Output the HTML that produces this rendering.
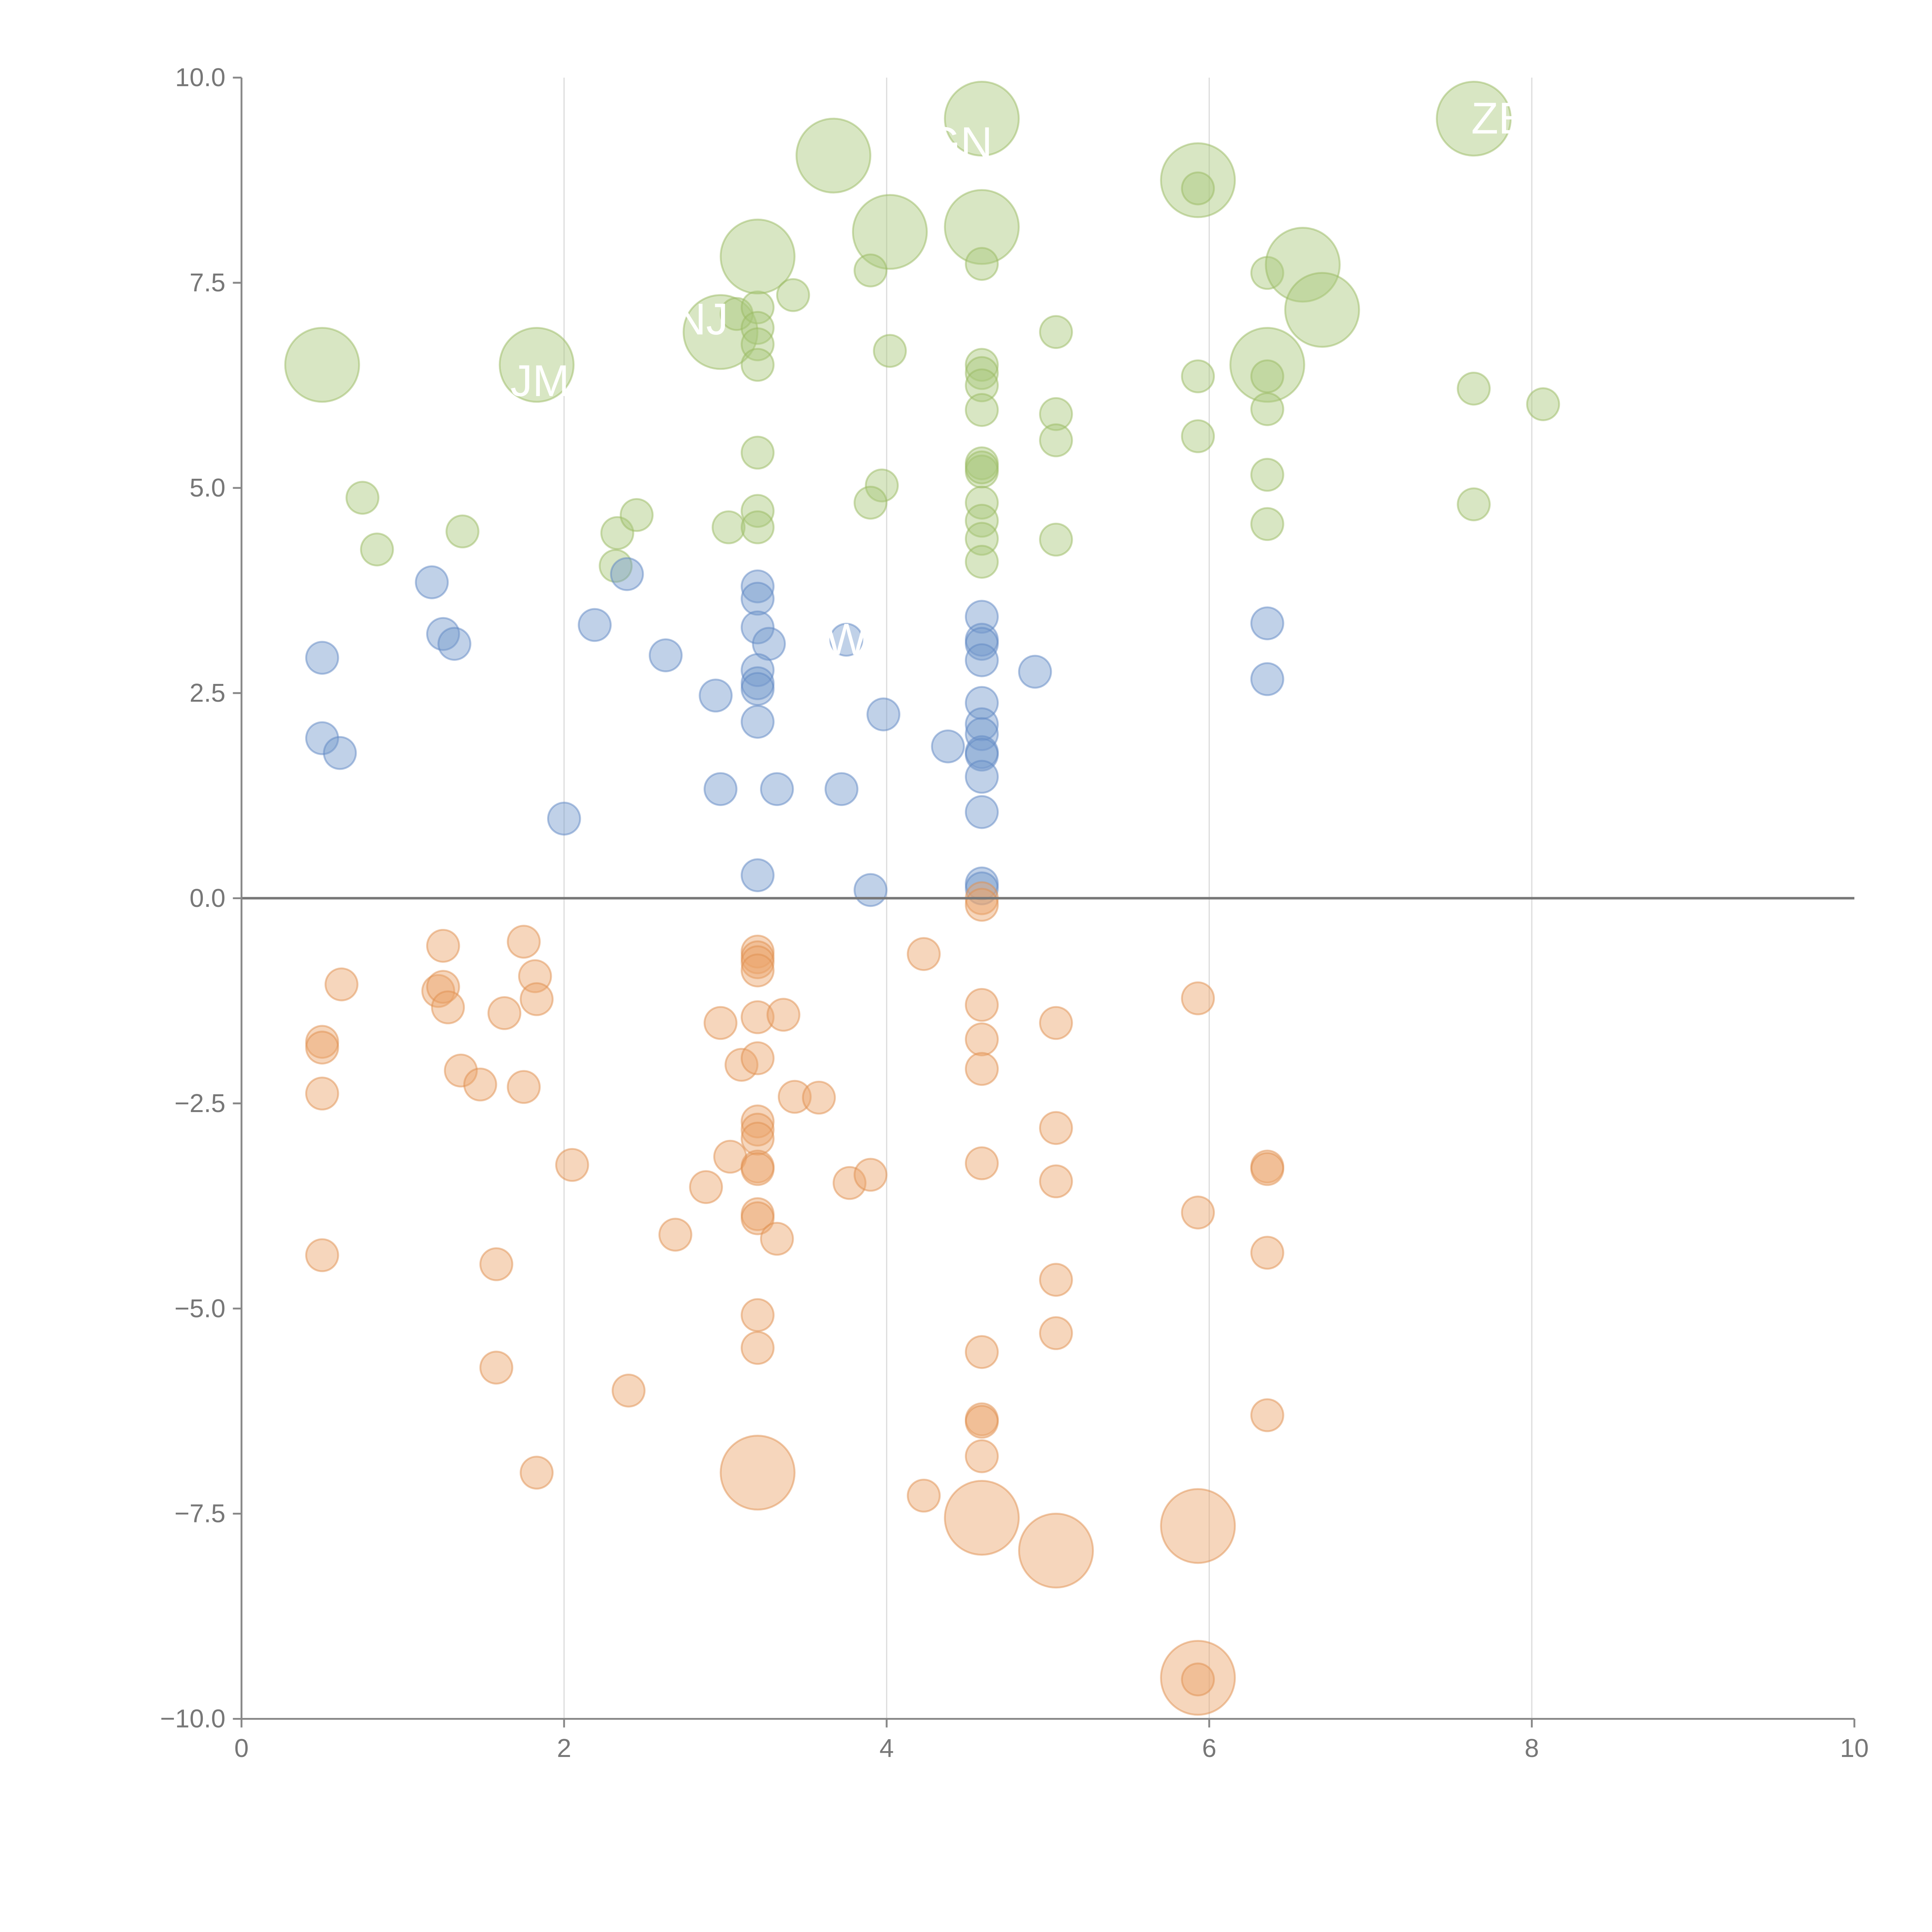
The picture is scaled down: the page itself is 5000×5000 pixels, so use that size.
<!DOCTYPE html>
<html><head><meta charset="utf-8"><style>html,body{margin:0;padding:0;background:#fff}svg{display:block}</style></head>
<body>
<svg id="chart" width="5000" height="5000" viewBox="0 0 1568 1568" xmlns="http://www.w3.org/2000/svg" font-family="Liberation Sans, sans-serif">
<g id="grid"></g>
<g id="marks"></g>
<g id="axes"></g>
<g id="labels"></g>
</svg>
<script>
const xTicks = [0,2,4,6,8,10];
const yTicks = [-10,-7.5,-5,-2.5,0,2.5,5,7.5,10];
const yTickLabels = ["\u221210.0","\u22127.5","\u22125.0","\u22122.5","0.0","2.5","5.0","7.5","10.0"];
const greenPts = [[0.5,6.5,1],[1.83,6.5,1],[0.75,4.88,0],[0.84,4.25,0],[1.37,4.47,0],[2.33,4.45,0],[2.45,4.67,0],[2.32,4.05,0],[3.02,4.52,0],[2.97,6.9,1],[3.07,7.12,0],[3.2,7.2,0],[3.2,6.95,0],[3.2,6.75,0],[3.2,6.5,0],[3.2,7.82,1],[3.42,7.35,0],[3.2,5.43,0],[3.2,4.72,0],[3.2,4.52,0],[3.67,9.05,1],[4.02,8.12,1],[3.9,7.65,0],[4.02,6.67,0],[3.97,5.03,0],[3.9,4.82,0],[4.59,9.5,1],[4.59,8.18,1],[4.59,7.73,0],[4.59,6.5,0],[4.59,6.4,0],[4.59,6.25,0],[4.59,5.95,0],[4.59,5.3,0],[4.59,5.2,0],[4.59,5.25,0],[4.59,4.82,0],[4.59,4.6,0],[4.59,4.38,0],[4.59,4.1,0],[5.05,6.9,0],[5.05,5.9,0],[5.05,5.58,0],[5.05,4.37,0],[5.93,8.75,1],[5.93,8.65,0],[5.93,6.36,0],[5.93,5.63,0],[6.36,7.62,0],[6.58,7.72,1],[6.7,7.17,1],[6.36,6.5,1],[6.36,6.36,0],[6.36,5.96,0],[6.36,5.16,0],[6.36,4.56,0],[7.64,9.5,1],[7.64,6.21,0],[8.07,6.02,0],[7.64,4.8,0]];
const bluePts = [[0.5,2.93,0],[0.5,1.95,0],[0.61,1.77,0],[1.18,3.85,0],[1.25,3.22,0],[1.32,3.1,0],[2.0,0.97,0],[2.19,3.33,0],[2.39,3.95,0],[2.63,2.96,0],[2.94,2.47,0],[2.97,1.33,0],[3.2,3.8,0],[3.2,3.65,0],[3.2,3.3,0],[3.27,3.1,0],[3.2,2.78,0],[3.2,2.62,0],[3.2,2.55,0],[3.2,2.15,0],[3.32,1.33,0],[3.2,0.28,0],[3.72,1.33,0],[3.75,3.15,0],[3.9,0.1,0],[3.98,2.24,0],[4.38,1.85,0],[4.59,3.43,0],[4.59,3.15,0],[4.59,3.1,0],[4.59,2.9,0],[4.59,2.38,0],[4.59,2.12,0],[4.59,2.0,0],[4.59,1.78,0],[4.59,1.75,0],[4.59,1.48,0],[4.59,1.05,0],[4.59,0.18,0],[4.59,0.12,0],[4.92,2.76,0],[6.36,3.35,0],[6.36,2.67,0]];
const orangePts = [[0.5,-1.75,0],[0.5,-1.82,0],[0.5,-2.38,0],[0.5,-4.35,0],[0.62,-1.05,0],[1.25,-0.58,0],[1.22,-1.13,0],[1.25,-1.08,0],[1.28,-1.33,0],[1.36,-2.1,0],[1.48,-2.27,0],[1.63,-1.4,0],[1.75,-0.53,0],[1.82,-0.95,0],[1.83,-1.23,0],[1.75,-2.3,0],[1.58,-4.46,0],[1.58,-5.72,0],[1.83,-7.0,0],[2.05,-3.25,0],[2.4,-6.0,0],[2.69,-4.1,0],[2.88,-3.52,0],[2.97,-1.52,0],[3.03,-3.15,0],[3.1,-2.03,0],[3.2,-0.65,0],[3.2,-0.72,0],[3.2,-0.78,0],[3.2,-0.88,0],[3.2,-1.45,0],[3.2,-1.95,0],[3.2,-2.72,0],[3.2,-2.82,0],[3.2,-2.93,0],[3.2,-3.27,0],[3.2,-3.3,0],[3.2,-3.85,0],[3.2,-3.9,0],[3.2,-5.08,0],[3.2,-5.48,0],[3.2,-7.0,1],[3.32,-4.15,0],[3.36,-1.42,0],[3.43,-2.42,0],[3.58,-2.43,0],[3.77,-3.47,0],[3.9,-3.37,0],[4.23,-0.68,0],[4.23,-7.28,0],[4.59,0.0,0],[4.59,-0.08,0],[4.59,-1.3,0],[4.59,-1.72,0],[4.59,-2.08,0],[4.59,-3.23,0],[4.59,-5.53,0],[4.59,-6.35,0],[4.59,-6.38,0],[4.59,-6.8,0],[4.59,-7.55,1],[5.05,-1.52,0],[5.05,-2.8,0],[5.05,-3.45,0],[5.05,-4.65,0],[5.05,-5.3,0],[5.05,-7.95,1],[5.93,-1.22,0],[5.93,-3.83,0],[5.93,-7.65,1],[5.93,-9.5,1],[5.93,-9.52,0],[6.36,-3.27,0],[6.36,-3.3,0],[6.36,-4.32,0],[6.36,-6.3,0]];
const pointLabels = ["JM","NJ","GN","ZE","W"];
const labelPos = [[1.85,6.3],[2.85,7.05],[4.45,9.2],[7.8,9.5],[3.75,3.15]];

const NS="http://www.w3.org/2000/svg";
const X0=196,X1=1505,Y0=1395,Y1=63;
const sx=v=>X0+(v-0)/10*(X1-X0);
const sy=v=>Y0-(v+10)/20*(Y0-Y1);
function mk(tag,attrs,parent){const e=document.createElementNS(NS,tag);for(const k in attrs)e.setAttribute(k,attrs[k]);parent.appendChild(e);return e;}
const grid=document.getElementById('grid'),marks=document.getElementById('marks'),axes=document.getElementById('axes'),labels=document.getElementById('labels');

xTicks.forEach(t=>{if(t>0&&t<10){const l=mk('line',{x1:sx(t),x2:sx(t),y1:Y1,y2:Y0,stroke:'#ddd','stroke-width':1},grid);

}});

function drawSeries(pts,fill,stroke,name){pts.forEach(p=>{const c=mk('circle',{cx:sx(p[0]),cy:sy(p[1]),r:p[2]?30:13,fill:fill,'fill-opacity':0.45,stroke:stroke,'stroke-opacity':0.5,'stroke-width':1.5},marks);

});}
drawSeries(greenPts,'#a9c77a','#9aba62','green-bubble');
drawSeries(bluePts,'#7399cd','#5f88c3','blue-bubble');
drawSeries(orangePts,'#eba36b','#e0904f','orange-bubble');

const zl=mk('line',{x1:X0,x2:X1,y1:sy(0),y2:sy(0),stroke:'#777','stroke-width':2},axes);


const ya=mk('line',{x1:X0,x2:X0,y1:Y1,y2:Y0,stroke:'#888','stroke-width':1.5},axes);


const xa=mk('line',{x1:X0,x2:X1,y1:Y0,y2:Y0,stroke:'#888','stroke-width':1.5},axes);


xTicks.forEach(t=>{mk('line',{x1:sx(t),x2:sx(t),y1:Y0,y2:Y0+7,stroke:'#888','stroke-width':1.5},axes);
const tx=mk('text',{x:sx(t),y:Y0+31,'text-anchor':'middle','font-size':21,fill:'#777'},axes);tx.textContent=t;

});
yTicks.forEach((t,i)=>{mk('line',{x1:X0-7,x2:X0,y1:sy(t),y2:sy(t),stroke:'#888','stroke-width':1.5},axes);
const tx=mk('text',{x:X0-13,y:sy(t)+7,'text-anchor':'end','font-size':21,fill:'#777'},axes);tx.textContent=yTickLabels[i];

});
pointLabels.forEach((s,i)=>{const tx=mk('text',{x:sx(labelPos[i][0]),y:sy(labelPos[i][1])+12,'text-anchor':'middle','font-size':36,fill:'#fff'},labels);tx.textContent=s;

});
</script>
</body></html>
